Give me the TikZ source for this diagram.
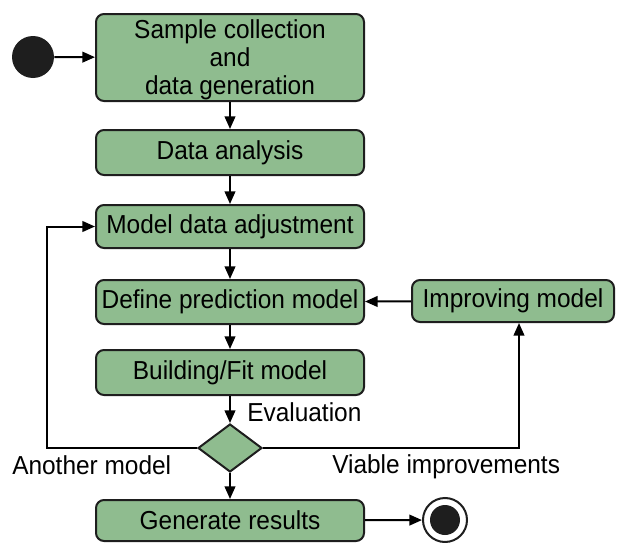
\documentclass[tikz,border=0pt]{standalone}
\usepackage{fontspec}
\setmainfont{Liberation Sans}[FakeStretch=0.94]
\usetikzlibrary{shapes.geometric,arrows.meta}
\definecolor{boxgreen}{RGB}{143,188,143}
\definecolor{edgedark}{RGB}{30,30,30}
\begin{document}
\begin{tikzpicture}[x=0.75pt,y=-0.75pt,
  stepbox/.style={draw=edgedark,fill=boxgreen,line width=1.5pt,rounded corners=6pt,
    minimum width=201pt,inner sep=0pt,align=center,font=\fontsize{19.5}{20.8}\selectfont},
  arr/.style={draw=black,line width=1.5pt,-{Triangle[length=9.5pt,width=8pt]}},
  lbl/.style={inner sep=0pt,font=\fontsize{19.5}{20.8}\selectfont}]
\useasboundingbox (0,0) rectangle (619,543);
\node[circle,fill=edgedark,minimum size=31.5pt,inner sep=0pt] (start) at (33,57) {};
\node[stepbox,minimum height=65.25pt] (b1) at (230,57.5) {\raisebox{-2.5pt}[\height][\depth]{\begin{tabular}{@{}c@{}}Sample collection\\and\\data generation\end{tabular}}};
\node[stepbox,minimum height=33.75pt] (b2) at (230,152.5) {Data analysis};
\node[stepbox,minimum height=32.25pt] (b3) at (230,226.5) {Model data adjustment};
\node[stepbox,minimum height=33pt] (b4) at (230,302) {Define prediction model};
\node[stepbox,minimum height=33.75pt] (b5) at (230,372.5) {Building/Fit model};
\node[diamond,draw=edgedark,fill=boxgreen,line width=1.5pt,inner sep=0pt,
  minimum width=48pt,minimum height=36pt,aspect=1.33] (dia) at (230,448) {};
\node[stepbox,minimum width=151.5pt,minimum height=31.5pt] (b6) at (513,301) {Improving model};
\node[stepbox,minimum height=30.75pt] (b7) at (230,520.5) {Generate results};
\node[circle,draw=edgedark,fill=white,line width=1.5pt,minimum size=33pt,inner sep=0pt] (end) at (445,520) {};
\node[circle,fill=edgedark,minimum size=22.5pt,inner sep=0pt] (endin) at (end.center) {};
\coordinate (L) at (47,226.5);
\node[lbl,anchor=west] (eval) at (247,412) {Evaluation};
\node[lbl,anchor=west] (another) at (12,465) {Another model};
\node[lbl,anchor=west] (viable) at (332,467) {Viable improvements};
\draw[arr] (start) -- (b1);
\draw[arr] (b1) -- (b2);
\draw[arr] (b2) -- (b3);
\draw[arr] (b3) -- (b4);
\draw[arr] (b4) -- (b5);
\draw[arr] (b5) -- (dia);
\draw[arr] (dia) -- (b7);
\draw[arr] (dia.west) -| (L) -- (b3.west);
\draw[arr] (dia.east) -| ([xshift=4.5pt]b6.south);
\draw[arr] (b6) -- (b4);
\draw[arr] (b7) -- (end);
\end{tikzpicture}
\end{document}
